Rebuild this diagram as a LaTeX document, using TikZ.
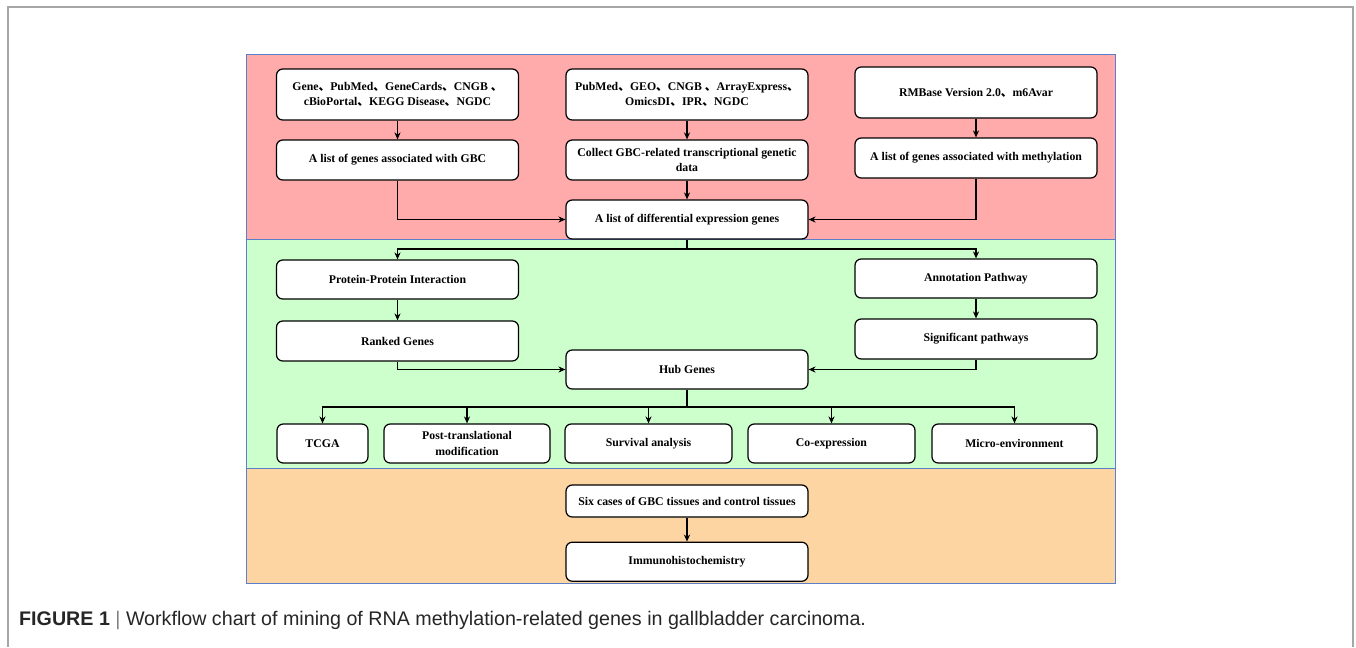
\documentclass[tikz,border=0pt]{standalone}
\usepackage{fontspec}
\setmainfont{Liberation Serif}
\newfontfamily\capfont{Liberation Sans}
\newfontfamily\cjk{Noto Sans CJK SC}
\usetikzlibrary{arrows.meta, positioning}
\newcommand{\dun}{{\cjk 、}}
\definecolor{toppink}{HTML}{FFABAB}
\definecolor{midgreen}{HTML}{CCFFCC}
\definecolor{lowtan}{HTML}{FDD5A3}
\definecolor{panelblue}{HTML}{5B7FC9}
\tikzset{
    stage/.style={
        rectangle, draw=black, line width=0.7pt, rounded corners=3.5pt,
        minimum width=4.84cm, minimum height=0.8cm,
        fill=white, align=center, inner sep=1pt,
        font=\fontsize{6.7}{8.7}\selectfont\bfseries
    },
    leaf/.style={stage, minimum height=0.78cm},
    flow/.style={draw=black, line width=0.6pt, -{Stealth[length=4pt, width=3.5pt]}},
    link/.style={draw=black, line width=0.6pt},
    band/.style={draw=panelblue, line width=0.5pt}
}

\begin{document}
\begin{tikzpicture}[x=0.02cm, y=-0.02cm]
\useasboundingbox (0,0) rectangle (1356,647);

% frame and caption
\draw[gray!70, line width=0.6pt] (8,647) -- (8,7) -- (1353,7) -- (1353,647);
\node[anchor=west, font=\capfont\fontsize{11.2}{13}\selectfont, text=black!85] (caption) at (13,620)
    {\textbf{FIGURE 1} \textcolor{gray}{|} Workflow chart of mining of RNA methylation-related genes in gallbladder carcinoma.};

% background bands
\fill[toppink] (246,54) rectangle (1115,239);
\fill[midgreen] (246,239) rectangle (1115,468);
\fill[lowtan] (246,468) rectangle (1115,583);
\draw[band] (246,54) rectangle (1115,583);
\draw[band] (246,239) -- (1115,239);
\draw[band] (246,468) -- (1115,468);

% data sources
\node[stage, minimum height=1.02cm] (genedb) at (397.5,94.5)
    {Gene\dun PubMed\dun GeneCards\dun CNGB \dun\\ cBioPortal\dun KEGG Disease\dun NGDC};
\node[stage, minimum height=1.02cm] (exprdb) at (687,94.5)
    {PubMed\dun GEO\dun CNGB \dun ArrayExpress\dun\\ OmicsDI\dun IPR\dun NGDC};
\node[stage, minimum height=1.02cm] (methdb) at (976,92.5) {RMBase Version 2.0\dun m6Avar};

\node[stage] (gbcgenes) at (397.5,160) {A list of genes associated with GBC};
\node[stage] (collect) at (687,160) {Collect GBC-related transcriptional genetic\\data};
\node[stage] (methgenes) at (976,158) {A list of genes associated with methylation};
\node[leaf] (degs) at (687,219.5) {A list of differential expression genes};

\draw[flow] (genedb) -- (gbcgenes);
\draw[flow] (exprdb) -- (collect);
\draw[flow] (methdb) -- (methgenes);
\draw[flow] (collect) -- (degs);
\draw[flow] (gbcgenes.south) |- (degs.west);
\draw[flow] (methgenes.south) |- (degs.east);

% screening
\node[leaf] (ppi) at (397.5,279.5) {Protein-Protein Interaction};
\node[leaf] (annot) at (976,278.5) {Annotation Pathway};
\node[stage] (ranked) at (397.5,341) {Ranked Genes};
\node[stage] (sigpath) at (976,339) {Significant pathways};
\node[leaf] (hub) at (687,369.5) {Hub Genes};

\coordinate (split1) at (687,249);
\draw[link] (degs.south) -- (split1);
\draw[flow] (split1) -| (ppi.north);
\draw[flow] (split1) -| (annot.north);
\draw[flow] (ppi) -- (ranked);
\draw[flow] (annot) -- (sigpath);
\draw[flow] (ranked.south) |- (hub.west);
\draw[flow] (sigpath.south) |- (hub.east);

\node[leaf, minimum width=1.82cm] (tcga) at (322.5,443.5) {TCGA};
\node[leaf, minimum width=3.32cm] (ptm) at (467,443.5) {Post-translational\\modification};
\node[leaf, minimum width=3.34cm] (surv) at (648.5,443.5) {Survival analysis};
\node[leaf, minimum width=3.34cm] (coexp) at (831.5,443.5) {Co-expression};
\node[leaf, minimum width=3.3cm] (micro) at (1014.5,443.5) {Micro-environment};

\coordinate (split2) at (687,407);
\draw[link] (hub.south) -- (split2);
\foreach \t in {tcga, ptm, surv, coexp, micro}
    \draw[flow] (split2) -| (\t.north);

% validation
\node[stage, minimum height=0.64cm] (tissue) at (687,501) {Six cases of GBC tissues and control tissues};
\node[leaf, below=0.48cm of tissue] (ihc) {Immunohistochemistry};
\draw[flow] (tissue) -- (ihc);

\end{tikzpicture}
\end{document}
